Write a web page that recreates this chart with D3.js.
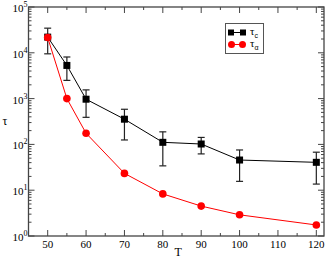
<!DOCTYPE html>
<html>
<head>
<meta charset="utf-8">
<script src="https://cdn.jsdelivr.net/npm/d3@7"></script>
<style>
body { margin: 0; background: #fff; }
svg { font-family: "Liberation Serif", "DejaVu Serif", serif; }
</style>
</head>
<body>
<div id="chart"></div>
<script>
// data
var temps = [50, 55, 60, 70, 80, 90, 100, 120];
var tauC = [22000, 5300, 970, 355, 111, 102, 45.6, 40.6];
var tauCErr = [12500, 2800, 580, 230, 77, 40, 30, 27];
var tauA = [21500, 1000, 175, 23.3, 8.3, 4.5, 2.9, 1.74];
var xMajor = [50, 60, 70, 80, 90, 100, 110, 120];
var xMinor = [55, 65, 75, 85, 95, 105, 115];
var yExp = [0, 1, 2, 3, 4, 5];

var width = 328, height = 259;
var pLeft = 28.5, pRight = 324, pTop = 7, pBottom = 236;

var svg = d3.select('#chart').append('svg')
    .attr('width', width)
    .attr('height', height);

var x = d3.scaleLinear().domain([45, 122]).range([pLeft, pRight]);
var y = d3.scaleLog().domain([1, 1e5]).range([pBottom, pTop]);

var yMinor = [];
yExp.slice(0, -1).forEach(function (e) {
    for (var k = 2; k <= 9; k++) yMinor.push(k * Math.pow(10, e));
});

var axisColor = '#444';

// ticks, all pointing inward
function drawTicks(g) {
    g.attr('stroke', axisColor).attr('stroke-width', 1);
    xMajor.forEach(function (v) {
        g.append('line').attr('x1', x(v)).attr('x2', x(v)).attr('y1', pBottom).attr('y2', pBottom - 6);
        g.append('line').attr('x1', x(v)).attr('x2', x(v)).attr('y1', pTop).attr('y2', pTop + 6);
    });
    xMinor.forEach(function (v) {
        g.append('line').attr('x1', x(v)).attr('x2', x(v)).attr('y1', pBottom).attr('y2', pBottom - 3);
        g.append('line').attr('x1', x(v)).attr('x2', x(v)).attr('y1', pTop).attr('y2', pTop + 3);
    });
    yExp.forEach(function (e) {
        var v = Math.pow(10, e);
        g.append('line').attr('x1', pLeft).attr('x2', pLeft + 6).attr('y1', y(v)).attr('y2', y(v));
        g.append('line').attr('x1', pRight).attr('x2', pRight - 6).attr('y1', y(v)).attr('y2', y(v));
    });
    yMinor.forEach(function (v) {
        g.append('line').attr('x1', pLeft).attr('x2', pLeft + 3).attr('y1', y(v)).attr('y2', y(v));
        g.append('line').attr('x1', pRight).attr('x2', pRight - 3).attr('y1', y(v)).attr('y2', y(v));
    });
}
drawTicks(svg.append('g'));

svg.append('rect')
    .attr('x', pLeft).attr('y', pTop)
    .attr('width', pRight - pLeft).attr('height', pBottom - pTop)
    .attr('fill', 'none').attr('stroke', axisColor).attr('stroke-width', 1.3);

// x tick labels
svg.append('g').selectAll('text')
    .data(xMajor)
    .enter().append('text')
    .attr('x', function (d) { return x(d); })
    .attr('y', pBottom + 12)
    .attr('text-anchor', 'middle')
    .attr('font-size', 11)
    .text(function (d) { return d; });

// y tick labels 10^n
var yLab = svg.append('g').selectAll('text')
    .data(yExp)
    .enter().append('text')
    .attr('x', pLeft - 1)
    .attr('y', function (d) { return y(Math.pow(10, d)) + 5; })
    .attr('text-anchor', 'end')
    .attr('font-size', 11);
yLab.append('tspan').text('10');
yLab.append('tspan').attr('dy', -5).attr('font-size', 8).text(function (d) { return d; });

svg.append('text')
    .attr('x', (pLeft + pRight) / 2 + 2)
    .attr('y', 256)
    .attr('text-anchor', 'middle')
    .attr('font-size', 12)
    .text('T');

svg.append('text')
    .attr('x', 5)
    .attr('y', (pTop + pBottom) / 2 + 3)
    .attr('text-anchor', 'middle')
    .attr('font-size', 12)
    .text('τ');

// lines
var line = d3.line()
    .x(function (d) { return x(d[0]); })
    .y(function (d) { return y(d[1]); });

var cData = temps.map(function (t, i) { return [t, tauC[i], tauCErr[i]]; });
var aData = temps.map(function (t, i) { return [t, tauA[i]]; });

svg.append('path').datum(cData)
    .attr('d', line).attr('fill', 'none').attr('stroke', '#000').attr('stroke-width', 1);

// error bars
var eb = svg.append('g').attr('stroke', '#222').attr('stroke-width', 1.2);
cData.forEach(function (d) {
    var hi = y(d[1] + d[2]), lo = y(Math.max(d[1] - d[2], 1));
    var cx = x(d[0]);
    eb.append('line').attr('x1', cx).attr('x2', cx).attr('y1', hi).attr('y2', lo);
    eb.append('line').attr('x1', cx - 3.5).attr('x2', cx + 3.5).attr('y1', hi).attr('y2', hi);
    eb.append('line').attr('x1', cx - 3.5).attr('x2', cx + 3.5).attr('y1', lo).attr('y2', lo);
});

svg.append('g').selectAll('rect')
    .data(cData)
    .enter().append('rect')
    .attr('x', function (d) { return x(d[0]) - 3.5; })
    .attr('y', function (d) { return y(d[1]) - 3.5; })
    .attr('width', 7).attr('height', 7)
    .attr('fill', '#000');

svg.append('path').datum(aData)
    .attr('d', line).attr('fill', 'none').attr('stroke', '#ff0000').attr('stroke-width', 1);

svg.append('g').selectAll('circle')
    .data(aData)
    .enter().append('circle')
    .attr('cx', function (d) { return x(d[0]); })
    .attr('cy', function (d) { return y(d[1]); })
    .attr('r', 3.8)
    .attr('fill', '#ff0000');

// legend
var lg = svg.append('g');
lg.append('rect')
    .attr('x', 225.5).attr('y', 23.5).attr('width', 38).attr('height', 30)
    .attr('fill', '#fff').attr('stroke', '#555').attr('stroke-width', 1);
lg.append('line').attr('x1', 231).attr('x2', 243).attr('y1', 32.5).attr('y2', 32.5)
    .attr('stroke', '#000');
lg.append('rect').attr('x', 228).attr('y', 29.5).attr('width', 6).attr('height', 6).attr('fill', '#000');
lg.append('rect').attr('x', 240).attr('y', 29.5).attr('width', 6).attr('height', 6).attr('fill', '#000');
lg.append('line').attr('x1', 231).attr('x2', 243).attr('y1', 44.5).attr('y2', 44.5)
    .attr('stroke', '#ff0000');
lg.append('circle').attr('cx', 231.5).attr('cy', 44.5).attr('r', 3.5).attr('fill', '#ff0000');
lg.append('circle').attr('cx', 242.5).attr('cy', 44.5).attr('r', 3.5).attr('fill', '#ff0000');

var l1 = lg.append('text').attr('x', 250).attr('y', 35).attr('font-size', 11);
l1.append('tspan').text('τ');
l1.append('tspan').attr('dy', 3).attr('font-size', 7).attr('font-family', 'Liberation Sans').text('c');
var l2 = lg.append('text').attr('x', 250).attr('y', 47).attr('font-size', 11);
l2.append('tspan').text('τ');
l2.append('tspan').attr('dy', 3).attr('font-size', 7).attr('font-family', 'Liberation Sans').text('α');
</script>
</body>
</html>
